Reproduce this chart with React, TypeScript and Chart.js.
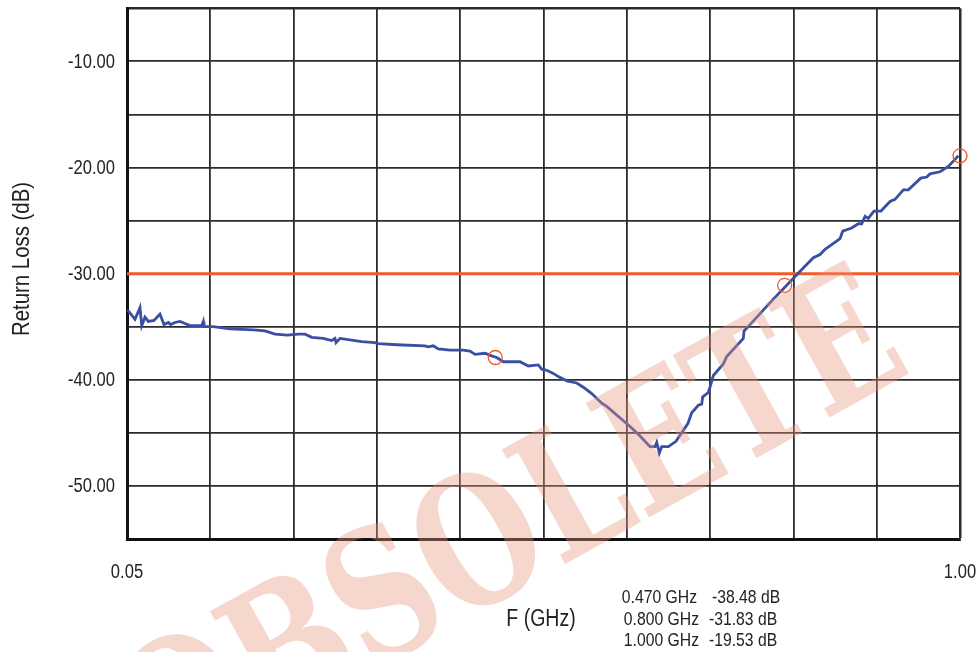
import React, { useEffect, useRef } from "react";
import { Chart, registerables } from "chart.js";

Chart.register(...registerables);

const FREQ_GHZ = [
  0.05, 0.0515, 0.0591, 0.0648, 0.0668, 0.0705, 0.0743, 0.0808, 0.0876, 0.0922,
  0.0971, 0.0998, 0.1047, 0.1104, 0.1161, 0.1218, 0.1352, 0.137, 0.1378, 0.1484,
  0.1675, 0.194, 0.2074, 0.2188, 0.2328, 0.2454, 0.253, 0.2607, 0.2739, 0.2835,
  0.2872, 0.2884, 0.2929, 0.3177, 0.3328, 0.3366, 0.3576, 0.3899, 0.3936, 0.3993,
  0.405, 0.4184, 0.4335, 0.4412, 0.4469, 0.4583, 0.464, 0.4716, 0.4792, 0.4982,
  0.5077, 0.5191, 0.523, 0.5287, 0.5362, 0.5419, 0.5515, 0.5629, 0.5704, 0.58,
  0.5914, 0.5971, 0.6237, 0.6351, 0.6465, 0.6522, 0.6541, 0.6571, 0.6598, 0.6674,
  0.6761, 0.6898, 0.694, 0.7016, 0.7054, 0.7066, 0.713, 0.7149, 0.7187, 0.7301,
  0.734, 0.7529, 0.7537, 0.7605, 0.7871, 0.8024, 0.8138, 0.8327, 0.8404, 0.8461,
  0.8632, 0.8662, 0.8765, 0.884, 0.8879, 0.8917, 0.8954, 0.9019, 0.9099, 0.9202,
  0.9259, 0.9354, 0.9411, 0.9552, 0.9621, 0.9658, 0.9772, 0.9867, 0.9924, 0.9981,
];

const RETURN_LOSS_DB = [
  -33.5, -33.5, -34.3, -33.2, -34.9, -34.1, -34.5, -34.4, -33.8, -34.8,
  -34.6, -34.8, -34.6, -34.5, -34.7, -34.9, -34.9, -34.5, -35.0, -35.0,
  -35.2, -35.3, -35.4, -35.7, -35.8, -35.7, -35.7, -36.0, -36.1, -36.3,
  -36.1, -36.5, -36.1, -36.4, -36.5, -36.6, -36.7, -36.8, -36.9, -36.8,
  -37.1, -37.2, -37.2, -37.3, -37.6, -37.5, -37.7, -37.9, -38.3, -38.3,
  -38.7, -38.6, -39.0, -39.1, -39.4, -39.7, -40.1, -40.3, -40.7, -41.3,
  -42.2, -42.5, -44.4, -45.3, -46.3, -46.3, -45.9, -46.9, -46.3, -46.3,
  -45.8, -44.1, -43.1, -42.4, -42.3, -41.6, -41.2, -40.7, -39.6, -38.5,
  -37.8, -36.1, -35.4, -34.8, -32.4, -31.1, -30.1, -28.5, -28.2, -27.7,
  -26.7, -26.0, -25.7, -25.3, -25.3, -24.6, -24.8, -24.1, -24.1, -23.2,
  -23.0, -22.1, -22.1, -21.0, -20.9, -20.6, -20.4, -19.9, -19.4, -18.9,
];

const MARKER_FREQ = [0.47, 0.8, 1.0];
const MARKER_DB = [-37.9, -31.1, -18.9];

const LIMIT_FREQ = [0.05, 1.0];
const LIMIT_DB = [-30, -30];

const X_GRID = [0.05, 0.145, 0.24, 0.335, 0.43, 0.525, 0.62, 0.715, 0.81, 0.905, 1.0];
const X_TICK_LABELS = ["0.05", "", "", "", "", "", "", "", "", "", "1.00"];
const Y_TICK_VALUES = [-10, -20, -30, -40, -50];
const Y_TICK_LABELS = ["-10.00", "-20.00", "-30.00", "-40.00", "-50.00"];

const READOUT_FREQ = ["0.470 GHz", "0.800 GHz", "1.000 GHz"];
const READOUT_DB = ["-38.48 dB", "-31.83 dB", "-19.53 dB"];

const X_TITLE = "F (GHz)";
const Y_TITLE = "Return Loss (dB)";
const WATERMARK = "OBSOLETE";

const FAMILY = "'Liberation Sans', Arial, sans-serif";
const NARROW = 0.85;
const TEXT_COLOR = "#222";
const BLUE = "#3a4ea3";
const RED = "#f05a28";

function narrowText(
  ctx: CanvasRenderingContext2D,
  text: string,
  x: number,
  y: number,
  align: CanvasTextAlign,
  size: number,
  rotate = 0
) {
  ctx.save();
  ctx.translate(x, y);
  if (rotate) ctx.rotate(rotate);
  ctx.scale(NARROW, 1);
  ctx.font = `${size}px ${FAMILY}`;
  ctx.textAlign = align;
  ctx.textBaseline = "middle";
  ctx.fillText(text, 0, 0);
  ctx.restore();
}

const overlayPlugin = {
  id: "overlay",
  afterDraw(chart: any) {
    const ctx = chart.ctx as CanvasRenderingContext2D;
    const xs = chart.scales.x;
    const ys = chart.scales.y;
    ctx.save();
    ctx.fillStyle = TEXT_COLOR;

    // tick labels, placed through the scales
    Y_TICK_VALUES.forEach((v, i) => {
      narrowText(ctx, Y_TICK_LABELS[i], xs.left - 12, ys.getPixelForValue(v) + 1, "right", 19.5);
    });
    X_GRID.forEach((v, i) => {
      if (X_TICK_LABELS[i]) {
        narrowText(ctx, X_TICK_LABELS[i], xs.getPixelForValue(v), ys.bottom + 34, "center", 19.5);
      }
    });

    // axis titles
    narrowText(ctx, Y_TITLE, 22, 259, "center", 24, -Math.PI / 2);
    narrowText(ctx, X_TITLE, 541, 620, "center", 23);

    // marker readouts
    const rowY = [598, 620, 641];
    const rightEdge = [697, 699, 699];
    const leftStart = [712, 709, 709];
    for (let i = 0; i < READOUT_FREQ.length; i++) {
      narrowText(ctx, READOUT_FREQ[i], rightEdge[i], rowY[i], "right", 18.5);
      narrowText(ctx, READOUT_DB[i], leftStart[i], rowY[i], "left", 18.5);
    }
    ctx.restore();

    // watermark
    ctx.save();
    ctx.font = `bold 160px 'DejaVu Serif', 'Liberation Serif', serif`;
    const full = ctx.measureText(WATERMARK).width;
    const first = ctx.measureText(WATERMARK[0]).width;
    const capH = ctx.measureText("E").actualBoundingBoxAscent || 116;
    const sx = 740 / (full - first);
    const sy = 130 / capH;
    ctx.translate(915, 370);
    ctx.rotate((-29 * Math.PI) / 180);
    ctx.scale(sx, sy);
    ctx.textAlign = "right";
    ctx.textBaseline = "alphabetic";
    ctx.fillStyle = "rgba(232,150,125,0.38)";
    ctx.fillText(WATERMARK, 0, 0);
    ctx.restore();
  },
};

export default function App() {
  const ref = useRef<HTMLCanvasElement | null>(null);

  useEffect(() => {
    if (!ref.current) return;
    const lossData = FREQ_GHZ.map((f, i) => ({ x: f, y: RETURN_LOSS_DB[i] }));
    const markerData = MARKER_FREQ.map((f, i) => ({ x: f, y: MARKER_DB[i] }));
    const limitData = LIMIT_FREQ.map((f, i) => ({ x: f, y: LIMIT_DB[i] }));
    const lastX = X_GRID.length - 1;

    const zeroPad = (scale: any) => {
      scale.paddingTop = 0;
      scale.paddingBottom = 0;
      scale.paddingLeft = 0;
      scale.paddingRight = 0;
    };

    const chart = new Chart(ref.current, {
      type: "line",
      data: {
        datasets: [
          {
            data: markerData,
            showLine: false,
            pointRadius: 7,
            pointStyle: "circle",
            pointBorderColor: RED,
            pointBorderWidth: 1.3,
            pointBackgroundColor: "rgba(0,0,0,0)",
            clip: false,
          } as any,
          {
            data: lossData,
            borderColor: BLUE,
            borderWidth: 2.8,
            pointRadius: 0,
            tension: 0,
            fill: false,
          },
          {
            data: limitData,
            borderColor: RED,
            borderWidth: 3,
            pointRadius: 0,
            fill: false,
          },
        ],
      },
      options: {
        responsive: false,
        animation: false,
        devicePixelRatio: 1,
        layout: { padding: { top: 7, right: 19, left: 0, bottom: 0 } },
        plugins: {
          legend: { display: false },
          tooltip: { enabled: false },
          title: { display: false },
        },
        scales: {
          x: {
            type: "linear",
            min: 0.05,
            max: 1.0,
            afterBuildTicks: (scale: any) => {
              scale.ticks = X_GRID.map((v) => ({ value: v }));
            },
            afterFit: (scale: any) => {
              scale.height = 113;
              zeroPad(scale);
            },
            ticks: { display: false },
            grid: {
              drawTicks: false,
              color: "#2b2b2b",
              lineWidth: (c: any) => (c.index === lastX ? 2.5 : 1.8),
            },
            border: { display: true, color: "#111", width: 3 },
          },
          y: {
            type: "linear",
            min: -55,
            max: -5,
            afterFit: (scale: any) => {
              scale.width = 127;
              zeroPad(scale);
            },
            ticks: { display: false, stepSize: 5 },
            grid: {
              drawTicks: false,
              color: "#2b2b2b",
              lineWidth: (c: any) => (c.tick && c.tick.value === -5 ? 2.5 : 1.8),
            },
            border: { display: true, color: "#111", width: 3 },
          },
        },
      },
      plugins: [overlayPlugin],
    } as any);

    return () => chart.destroy();
  }, []);

  return (
    <div style={{ position: "absolute", left: 0, top: 0, width: 979, height: 652, background: "#fff" }}>
      <canvas ref={ref} width={979} height={652} style={{ display: "block" }} />
    </div>
  );
}
